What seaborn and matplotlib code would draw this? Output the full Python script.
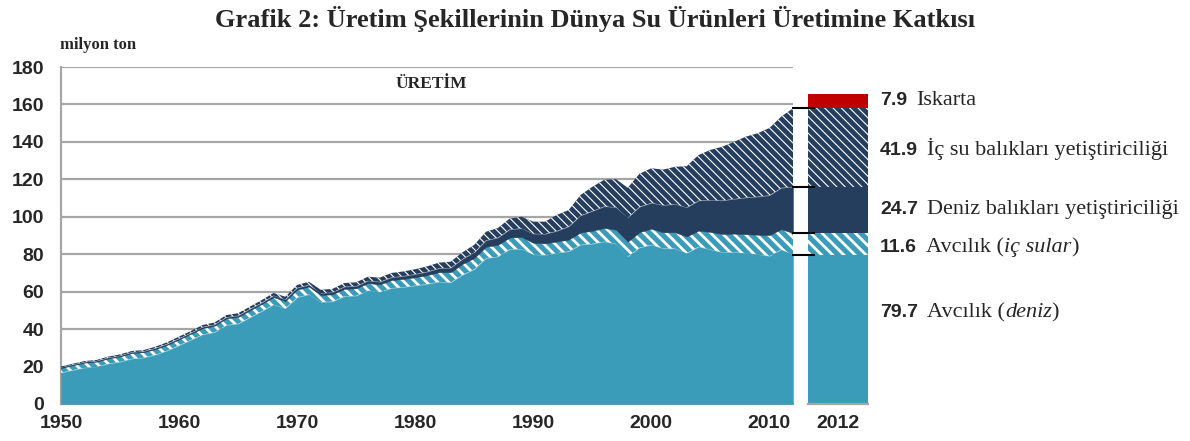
import matplotlib
matplotlib.use("Agg")
import matplotlib.pyplot as plt
import numpy as np
import pandas as pd
import seaborn as sns

# ---------------- data ----------------
years = list(range(1950, 2013))
capture_marine = [16.7, 18.1, 19.4, 19.8, 21.5, 22.5, 24.2, 24.7, 26.3, 28.5,
                  31.3, 34.2, 37.1, 38.3, 42.1, 42.8, 46.2, 49.5, 53.1, 51.0,
                  56.9, 58.5, 54.4, 54.7, 57.5, 57.8, 60.6, 59.8, 61.9, 62.4,
                  63.2, 64.0, 65.2, 64.9, 68.9, 72.0, 77.8, 78.7, 82.6, 82.8,
                  79.8, 79.6, 80.6, 81.5, 85.0, 85.5, 86.7, 85.5, 78.7, 83.5,
                  85.0, 83.0, 83.0, 80.5, 84.0, 82.5, 81.0, 81.0, 80.5, 80.0,
                  79.0, 82.5, 79.7]
capture_inland = [2.5, 2.6, 2.7, 2.8, 2.8, 2.9, 3.0, 3.0, 3.0, 3.1,
                  3.2, 3.3, 3.4, 3.5, 3.6, 3.7, 3.8, 3.9, 4.0, 4.0,
                  4.2, 4.2, 3.8, 3.9, 4.0, 4.0, 4.0, 4.1, 4.3, 4.4,
                  4.5, 4.8, 5.2, 5.5, 5.9, 6.0, 6.2, 6.3, 6.3, 6.4,
                  6.3, 6.2, 6.2, 6.3, 6.6, 7.0, 7.3, 7.6, 8.0, 8.3,
                  8.6, 8.7, 8.7, 9.0, 8.6, 9.4, 9.8, 10.0, 10.2, 10.4,
                  11.2, 10.9, 11.6]
aqua_marine = [0.3, 0.3, 0.3, 0.3, 0.4, 0.4, 0.4, 0.4, 0.5, 0.5,
               0.5, 0.5, 0.6, 0.6, 0.6, 0.7, 0.7, 0.7, 0.8, 0.8,
               0.9, 0.9, 1.0, 1.0, 1.1, 1.1, 1.2, 1.3, 1.4, 1.5,
               1.6, 1.8, 2.0, 2.3, 2.6, 3.0, 3.4, 3.8, 4.3, 4.6,
               4.8, 5.0, 5.6, 7.0, 9.0, 10.5, 11.5, 12.0, 12.8, 13.5,
               13.8, 14.5, 15.0, 15.5, 16.0, 17.0, 17.8, 18.5, 19.5, 20.3,
               21.2, 22.0, 24.7]
aqua_inland = [0.5, 0.5, 0.55, 0.6, 0.6, 0.7, 0.7, 0.7, 0.8, 0.9,
               1.0, 1.0, 1.1, 1.1, 1.2, 1.3, 1.3, 1.4, 1.4, 1.5,
               1.6, 1.7, 1.8, 1.9, 2.0, 2.1, 2.2, 2.3, 2.4, 2.5,
               2.7, 2.9, 3.1, 3.3, 3.6, 4.0, 4.6, 5.2, 5.8, 6.2,
               6.5, 6.6, 8.6, 8.8, 11.0, 13.0, 14.2, 15.0, 16.0, 17.7,
               18.5, 19.0, 20.0, 22.0, 24.4, 26.8, 28.8, 30.5, 32.6, 33.9,
               36.0, 38.1, 41.9]

bar_year = "2012"
bar_values = [79.7, 11.6, 24.7, 41.9, 7.9]   # bottom -> top
bar_labels = [
    [("Avcılık (", "normal"), ("deniz", "italic"), (")", "normal")],
    [("Avcılık (", "normal"), ("iç sular", "italic"), (")", "normal")],
    [("Deniz balıkları yetiştiriciliği", "normal")],
    [("İç su balıkları yetiştiriciliği", "normal")],
    [("Iskarta", "normal")],
]
x_ticks = [1950, 1960, 1970, 1980, 1990, 2000, 2010]
y_ticks = [0, 20, 40, 60, 80, 100, 120, 140, 160, 180]
title = "Grafik 2: Üretim Şekillerinin Dünya Su Ürünleri Üretimine Katkısı"
unit_label = "milyon ton"
panel_label = "ÜRETİM"

# ---------------- style ----------------
sns.set_theme(style="white")
plt.rcParams["font.family"] = ["Liberation Sans", "DejaVu Sans"]
SERIF = ["Liberation Serif", "DejaVu Serif"]
SANS = ["Liberation Sans", "DejaVu Sans"]

TEAL = "#3A9CB8"
NAVY = "#263E5E"
RED = "#C00000"
GRID = "#A6A6A6"
HATCH_CAP = "\\\\\\"
HATCH_AQ = "\\\\\\\\"
LW_CAP = 2.0
LW_AQ = 0.8


def hatch_lw(artist, lw):
    """Give one artist its own hatch line width (works for old and new matplotlib)."""
    if hasattr(artist, "set_hatch_linewidth"):
        artist.set_hatch_linewidth(lw)
    orig = artist.draw

    def draw(renderer, _orig=orig, _lw=lw):
        with plt.rc_context({"hatch.linewidth": _lw}):
            _orig(renderer)
    artist.draw = draw


W, H = 1190, 441
fig = plt.figure(figsize=(W / 100, H / 100), dpi=100)
fig.patch.set_facecolor("white")

y0_px, y180_px = 404, 67
ax = fig.add_axes([61 / W, (H - y0_px) / H, (793 - 61) / W, (y0_px - y180_px) / H])
ax2 = fig.add_axes([808 / W, (H - y0_px) / H, 60 / W, (y0_px - y180_px) / H])

df = pd.DataFrame({"year": years, "cm": capture_marine, "ci": capture_inland,
                   "am": aqua_marine, "ai": aqua_inland})
layers = [("cm", TEAL, None, 0),
          ("ci", TEAL, HATCH_CAP, LW_CAP),
          ("am", NAVY, None, 0),
          ("ai", NAVY, HATCH_AQ, LW_AQ)]

base = np.zeros(len(df))
for col, fc, hatch, hlw in layers:
    top = base + df[col].to_numpy()
    if hatch:
        plt.rcParams["hatch.linewidth"] = hlw
        pc = ax.fill_between(df["year"], base, top, facecolor=fc, edgecolor="white",
                             hatch=hatch, linewidth=0, zorder=3)
        hatch_lw(pc, hlw)
    else:
        ax.fill_between(df["year"], base, top, facecolor=fc, edgecolor=fc,
                        linewidth=0.3, zorder=3)
    base = top

ax.set_xlim(1950, 2012)
ax.set_ylim(0, 180)
ax.set_xticks(x_ticks)
ax.set_yticks(y_ticks)
ax.grid(axis="y", color=GRID, linewidth=1.6)
ax.grid(axis="x", visible=False)
ax.set_axisbelow(True)
for s in ["top", "right"]:
    ax.spines[s].set_visible(False)
for s in ["left", "bottom"]:
    ax.spines[s].set_color(GRID)
    ax.spines[s].set_linewidth(1.6)
ax.tick_params(axis="both", length=5, width=1.6, color=GRID, direction="out",
               labelsize=14)
ax.tick_params(axis="y", pad=7)
ax.tick_params(axis="x", pad=3)
for lab in ax.get_xticklabels() + ax.get_yticklabels():
    lab.set_fontweight("bold")
    lab.set_family(SANS)
ax.set_xlabel("")
ax.set_ylabel("")
ax.text(1981.4, 171, panel_label, ha="center", va="center", fontsize=12.5,
        fontweight="bold", family=SERIF, zorder=5)

# ---------------- 2012 stacked bar (seaborn) ----------------
cums = np.cumsum(bar_values)
bar_colors = [TEAL, TEAL, NAVY, NAVY, RED]
bar_hatch = [None, HATCH_CAP, None, HATCH_AQ, None]
bar_hlw = [0, LW_CAP, 0, LW_AQ, 0]
for i in range(len(bar_values) - 1, -1, -1):
    if bar_hatch[i]:
        plt.rcParams["hatch.linewidth"] = bar_hlw[i]
        kw = dict(hatch=bar_hatch[i], edgecolor="white", linewidth=0)
    else:
        kw = dict(edgecolor=bar_colors[i], linewidth=0)
    n_before = len(ax2.patches)
    sns.barplot(x=[bar_year], y=[cums[i]], color=bar_colors[i], saturation=1,
                width=1.0, errorbar=None, ax=ax2, **kw)
    for p in ax2.patches[n_before:]:
        p.set_facecolor(bar_colors[i])
        if bar_hatch[i]:
            p.set_edgecolor("white")
            hatch_lw(p, bar_hlw[i])
ax2.set_xlim(-0.5, 0.5)
ax2.set_ylim(0, 180)
ax2.set_yticks([])
ax2.set_xlabel("")
ax2.set_ylabel("")
for s in ["top", "right", "left"]:
    ax2.spines[s].set_visible(False)
ax2.spines["bottom"].set_color(GRID)
ax2.spines["bottom"].set_linewidth(1.6)
ax2.tick_params(axis="x", length=0, pad=8, labelsize=14)
for lab in ax2.get_xticklabels():
    lab.set_fontweight("bold")
    lab.set_family(SANS)
ax2.grid(False)

# connector marks between area and bar
marks = [cums[0], cums[1], cums[2], cums[3]]
ax2.hlines(marks, -(808 - 792) / 60, (815 - 808) / 60, colors="black", linewidth=1.5,
           transform=ax2.get_yaxis_transform(), clip_on=False, zorder=6)

# ---------------- texts ----------------
fig.text(595 / W, 1 - 19 / H, title, ha="center", va="center", fontsize=19,
         fontweight="bold", family=SERIF)
fig.text(60 / W, 1 - 45 / H, unit_label, ha="left", va="center", fontsize=12,
         fontweight="bold", family=SERIF)

renderer = fig.canvas.get_renderer()
baselines = [317, 252, 214, 155, 105]   # pixel rows (from top) for each bar segment label
for val, segs, bl in zip(bar_values, bar_labels, baselines):
    yb = 1 - bl / H
    t = fig.text(880 / W, yb, f"{val:.1f}", ha="left", va="baseline", fontsize=14,
                 fontweight="bold", family=SANS)
    x_px = t.get_window_extent(renderer).x1 + 9
    for txt, style in segs:
        t = fig.text(x_px / W, yb, txt, ha="left", va="baseline", fontsize=16,
                     style=style, family=SERIF)
        x_px = t.get_window_extent(renderer).x1

fig.savefig("out.png", dpi=100, facecolor="white")
